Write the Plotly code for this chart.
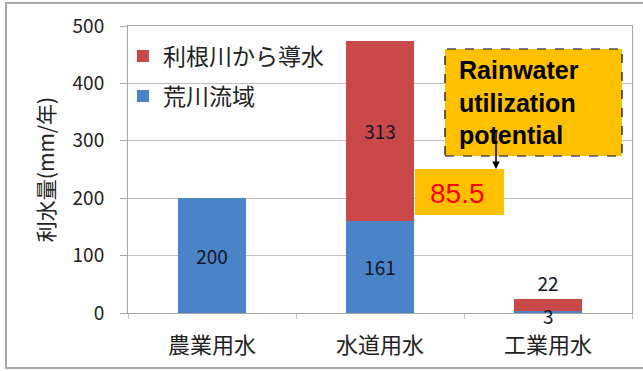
import plotly.graph_objects as go

# Water use by sector (mm/year), split by source
categories = ["農業用水", "水道用水", "工業用水"]
arakawa = [200, 161, 3]          # 荒川流域
tone_transfer = [None, 313, 22]  # 利根川から導水
series_names = ["荒川流域", "利根川から導水"]
y_ticks = [0, 100, 200, 300, 400, 500]
rainwater_potential = 85.5

BLUE = "#4A84C6"
RED = "#C9494B"
ORANGE = "#FFC000"
JP_FONT = "Noto Sans CJK JP"
LABEL_COLOR = "#15152A"
LABEL_SIZE = 19


def fmt(v):
    return "" if v is None else f"{v:g}"


# the thin 工業用水 base segment gets its label as an annotation instead
arakawa_text = [fmt(v) for v in arakawa]
arakawa_text[2] = ""

fig = go.Figure()

fig.add_trace(go.Bar(
    x=categories, y=arakawa, name=series_names[0],
    legendgroup="a", legendrank=2,
    marker=dict(color=BLUE, line=dict(width=0)),
    text=arakawa_text, textposition="inside",
    insidetextanchor="middle", constraintext="none",
    textfont=dict(family=JP_FONT, size=LABEL_SIZE, color=LABEL_COLOR),
))
fig.add_trace(go.Bar(
    x=categories, y=tone_transfer, name=series_names[1],
    legendgroup="b", legendrank=1,
    marker=dict(color=RED, line=dict(width=0)),
    text=[fmt(v) for v in tone_transfer],
    textposition=["inside", "inside", "outside"],
    insidetextanchor="middle", constraintext="none", cliponaxis=False,
    textfont=dict(family=JP_FONT, size=LABEL_SIZE, color=LABEL_COLOR),
))

L, R, T, B = 128, 11, 26, 58
W, H = 643, 371
pw, ph = W - L - R, H - T - B


def px_x(p):
    return (p - L) / pw


def px_y(p):
    return (H - B - p) / ph


shapes = [
    # outer frame around the whole figure
    dict(type="rect", xref="paper", yref="paper",
         x0=px_x(6), x1=px_x(652), y0=px_y(368), y1=px_y(3),
         line=dict(color="#A8A8A8", width=2), fillcolor="rgba(0,0,0,0)",
         layer="below"),
    # callout box
    dict(type="rect", xref="paper", yref="paper",
         x0=px_x(445), x1=px_x(622), y0=px_y(156), y1=px_y(49),
         line=dict(color="black", width=1.2, dash="dash"), fillcolor=ORANGE),
    # value box
    dict(type="rect", xref="paper", yref="paper",
         x0=px_x(415), x1=px_x(504), y0=px_y(215), y1=px_y(169),
         line=dict(width=0), fillcolor=ORANGE),
]

annotations = [
    dict(x=categories[2], y=arakawa[2] / 2, xref="x", yref="y",
         text=fmt(arakawa[2]), showarrow=False, yshift=-3,
         font=dict(family=JP_FONT, size=LABEL_SIZE, color=LABEL_COLOR)),
    dict(xref="paper", yref="paper", x=px_x(457), y=px_y(102),
         xanchor="left", yanchor="middle", align="left", showarrow=False,
         text="<b>Rainwater<br>utilization<br>potential</b>",
         font=dict(family="Liberation Sans", size=25, color="black")),
    dict(xref="paper", yref="paper", x=px_x(496), y=px_y(169),
         ax=0, ay=-39, showarrow=True, arrowhead=2, arrowsize=1,
         arrowwidth=1.5, arrowcolor="black", text=""),
    dict(xref="paper", yref="paper", x=px_x(457), y=px_y(193),
         xanchor="center", yanchor="middle", showarrow=False,
         text=f"{rainwater_potential:g}",
         font=dict(family="Liberation Sans", size=28, color="#FF0000")),
]

fig.update_layout(
    width=W, height=H,
    margin=dict(l=L, r=R, t=T, b=B, pad=0),
    paper_bgcolor="white", plot_bgcolor="white",
    barmode="stack", bargap=0.6,
    font=dict(family=JP_FONT, color="#222222"),
    showlegend=True,
    legend=dict(x=-0.01, y=0.97, xanchor="left", yanchor="top",
                traceorder="grouped", tracegroupgap=7,
                bgcolor="rgba(0,0,0,0)",
                font=dict(family=JP_FONT, size=23, color="#222222")),
    shapes=shapes,
    annotations=annotations,
    xaxis=dict(
        showline=True, linecolor="#A6A6A6", linewidth=1, mirror=True,
        ticks="outside", tickson="boundaries", ticklen=5, tickcolor="#C0C0C0",
        ticklabelstandoff=13,
        tickfont=dict(family=JP_FONT, size=22, color="#222222"),
        showgrid=False,
    ),
    yaxis=dict(
        range=[0, 500], tickvals=y_ticks, autorange=False,
        showline=True, linecolor="#A6A6A6", linewidth=1, mirror=True,
        ticks="outside", ticklen=7, tickcolor="#A6A6A6",
        ticklabelstandoff=12,
        showgrid=True, gridcolor="#BEBEBE", gridwidth=1,
        tickfont=dict(family=JP_FONT, size=19, color="#222222"),
        title=dict(text="利水量(mm/年)", standoff=12,
                   font=dict(family=JP_FONT, size=21, color="#222222")),
        zeroline=False,
    ),
)

fig.write_html("out.html")
